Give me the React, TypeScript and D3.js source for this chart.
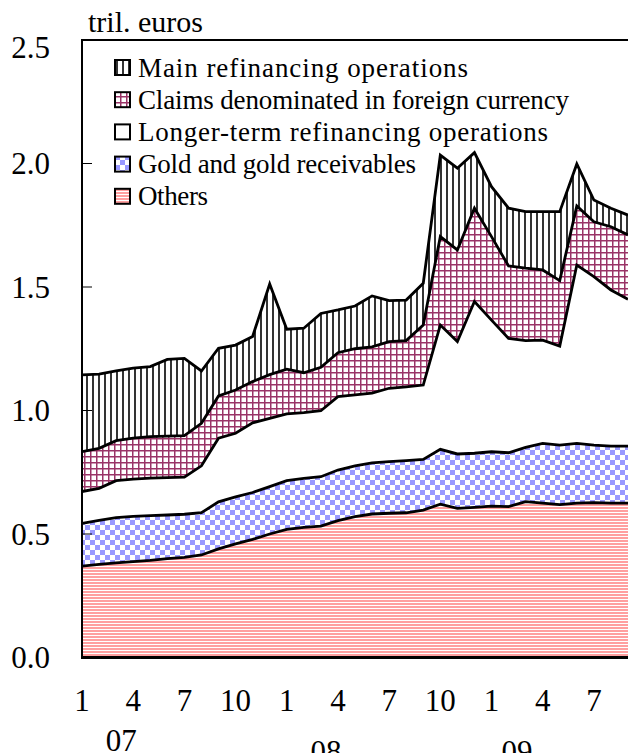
import React from 'react';
import * as d3 from 'd3';

const months = [
  '2007-01','2007-02','2007-03','2007-04','2007-05','2007-06','2007-07','2007-08','2007-09','2007-10','2007-11','2007-12',
  '2008-01','2008-02','2008-03','2008-04','2008-05','2008-06','2008-07','2008-08','2008-09','2008-10','2008-11','2008-12',
  '2009-01','2009-02','2009-03','2009-04','2009-05','2009-06','2009-07','2009-08','2009-09',
];

// trillion euros, each component (stacked bottom -> top)
const others = [0.370,0.377,0.383,0.388,0.393,0.400,0.405,0.415,0.440,0.460,0.478,0.500,0.519,0.527,0.532,0.554,0.570,0.581,0.584,0.586,0.597,0.621,0.604,0.608,0.613,0.611,0.631,0.625,0.619,0.625,0.627,0.625,0.625];
const gold = [0.173,0.178,0.183,0.183,0.181,0.177,0.175,0.171,0.190,0.190,0.190,0.192,0.197,0.198,0.200,0.205,0.206,0.207,0.209,0.211,0.205,0.222,0.220,0.219,0.220,0.218,0.220,0.242,0.241,0.242,0.233,0.231,0.231];
const ltro = [0.129,0.130,0.150,0.151,0.152,0.151,0.150,0.190,0.258,0.258,0.282,0.276,0.270,0.266,0.267,0.297,0.287,0.282,0.297,0.299,0.301,0.503,0.455,0.614,0.533,0.463,0.432,0.418,0.401,0.722,0.682,0.632,0.594];
const claims = [0.161,0.162,0.162,0.166,0.168,0.168,0.168,0.172,0.171,0.175,0.167,0.177,0.181,0.162,0.176,0.178,0.187,0.188,0.189,0.187,0.243,0.358,0.371,0.378,0.338,0.293,0.293,0.284,0.265,0.239,0.222,0.256,0.261];
const mro = [0.311,0.300,0.282,0.284,0.284,0.311,0.313,0.212,0.193,0.182,0.183,0.367,0.162,0.180,0.218,0.173,0.173,0.206,0.166,0.164,0.169,0.330,0.331,0.225,0.202,0.234,0.229,0.236,0.279,0.170,0.088,0.075,0.080];

const seriesKeys = ['others', 'gold', 'ltro', 'claims', 'mro'];
const seriesNames: Record<string, string> = {
  mro: 'Main refinancing operations',
  claims: 'Claims denominated in foreign currency',
  ltro: 'Longer-term refinancing operations',
  gold: 'Gold and gold receivables',
  others: 'Others',
};
const legendOrder = ['mro', 'claims', 'ltro', 'gold', 'others'];

const yTicks = [0, 0.5, 1.0, 1.5, 2.0, 2.5];
const xTickIdx = [0, 3, 6, 9, 12, 15, 18, 21, 24, 27, 30];
const xTickLabels = ['1', '4', '7', '10', '1', '4', '7', '10', '1', '4', '7'];
const yearLabels = ['07', '08', '09'];
const yearPos = [2.3, 14.3, 25.5];
const yearDy = [0, 11, 11];

const FONT = '"Liberation Serif", "Times New Roman", Times, serif';
// rendered widths of legend labels (styling)
const legendWidths: Record<string, number> = { mro: 330, claims: 431, ltro: 410, gold: 278, others: 70 };

export default function App() {
  const W = 628, H = 753;
  const left = 82, right = 628, top = 40, bottom = 657.5;
  const x = d3.scaleLinear().domain([0, months.length - 1]).range([left, right]);
  const y = d3.scaleLinear().domain([0, 2.5]).range([bottom, top]);

  const table = months.map((m, i) => ({
    m, others: others[i], gold: gold[i], ltro: ltro[i], claims: claims[i], mro: mro[i],
  }));
  const stacked = d3.stack<any>().keys(seriesKeys)(table);

  const area = d3.area<any>()
    .x((_d, i) => x(i))
    .y0(d => y(d[0]))
    .y1(d => y(d[1]));
  const line = d3.line<any>()
    .x((_d, i) => x(i))
    .y(d => y(d[1]));

  const fills: Record<string, string> = {
    mro: 'url(#pMro)', claims: 'url(#pClaims)', ltro: '#ffffff', gold: 'url(#pGold)', others: 'url(#pOthers)',
  };

  return (
    <svg width={W} height={H} style={{ position: 'absolute', left: 0, top: 0, background: '#fff', fontFamily: FONT }}>
      <defs>
        <pattern id="pMro" patternUnits="userSpaceOnUse" width={6} height={6}>
          <rect width={6} height={6} fill="#fff" />
          <line x1={3} x2={3} y1={0} y2={6} stroke="#000" strokeWidth={1.6} />
        </pattern>
        <pattern id="pClaims" patternUnits="userSpaceOnUse" width={6} height={6}>
          <rect width={6} height={6} fill="#fff" />
          <line x1={0.75} x2={0.75} y1={0} y2={6} stroke="#993366" strokeWidth={1.5} />
          <line x1={0} x2={6} y1={0.75} y2={0.75} stroke="#993366" strokeWidth={1.5} />
        </pattern>
        <pattern id="pGold" patternUnits="userSpaceOnUse" width={10} height={10}>
          <rect width={10} height={10} fill="#fff" />
          <rect x={0} y={0} width={5} height={5} fill="#9999ff" />
          <rect x={5} y={5} width={5} height={5} fill="#9999ff" />
        </pattern>
        <pattern id="pOthers" patternUnits="userSpaceOnUse" width={4} height={3}>
          <rect width={4} height={3} fill="#fff" />
          <rect x={0} y={0} width={4} height={2} fill="#ff9f9f" />
        </pattern>
        <clipPath id="plotClip">
          <rect x={left} y={top} width={right - left} height={bottom - top} />
        </clipPath>
      </defs>

      <g clipPath="url(#plotClip)">
        {stacked.map(s => (
          <path key={s.key} d={area(s as any) || ''} fill={fills[s.key]} stroke="none" />
        ))}
        {stacked.map(s => (
          <path key={'l' + s.key} d={line(s as any) || ''} fill="none" stroke="#000" strokeWidth={2.8} strokeLinejoin="miter" />
        ))}
      </g>

      {/* frame */}
      <rect x={left} y={top} width={right - left + 1} height={bottom - top} fill="none" stroke="#000" strokeWidth={2} />
      <line x1={left - 1} x2={right} y1={bottom} y2={bottom} stroke="#000" strokeWidth={3} />

      {/* y ticks */}
      {yTicks.map((t, i) => (
        <g key={'yt' + i}>
          {t > 0 && t < 2.5 && (
            <line x1={left} x2={left + 10} y1={y(t)} y2={y(t)} stroke="#000" strokeWidth={1} />
          )}
          <text x={50} y={t === 2.5 ? y(t) + 7 : y(t)} textAnchor="end" dominantBaseline="central" fontSize={31} fill="#000">
            {t.toFixed(1)}
          </text>
        </g>
      ))}

      {/* x tick labels */}
      {xTickIdx.map((idx, i) => (
        <text key={'xt' + i} x={x(idx)} y={711} textAnchor="middle" fontSize={31} fill="#000">
          {xTickLabels[i]}
        </text>
      ))}
      {yearLabels.map((lab, i) => (
        <text key={'yr' + i} x={x(yearPos[i])} y={751 + yearDy[i]} textAnchor="middle" fontSize={31} fill="#000">
          {lab}
        </text>
      ))}

      <text x={88} y={32} fontSize={30} fill="#000">tril. euros</text>

      {/* legend */}
      {legendOrder.map((k, i) => {
        const cy = 67.5 + i * 32.2;
        return (
          <g key={'lg' + k}>
            <rect x={115} y={cy - 7.5} width={15} height={15} fill={fills[k]} stroke="#000" strokeWidth={2} />
            <text x={138} y={cy} dominantBaseline="central" fontSize={27} fill="#000"
              textLength={legendWidths[k]} lengthAdjust="spacing">{seriesNames[k]}</text>
          </g>
        );
      })}
    </svg>
  );
}
